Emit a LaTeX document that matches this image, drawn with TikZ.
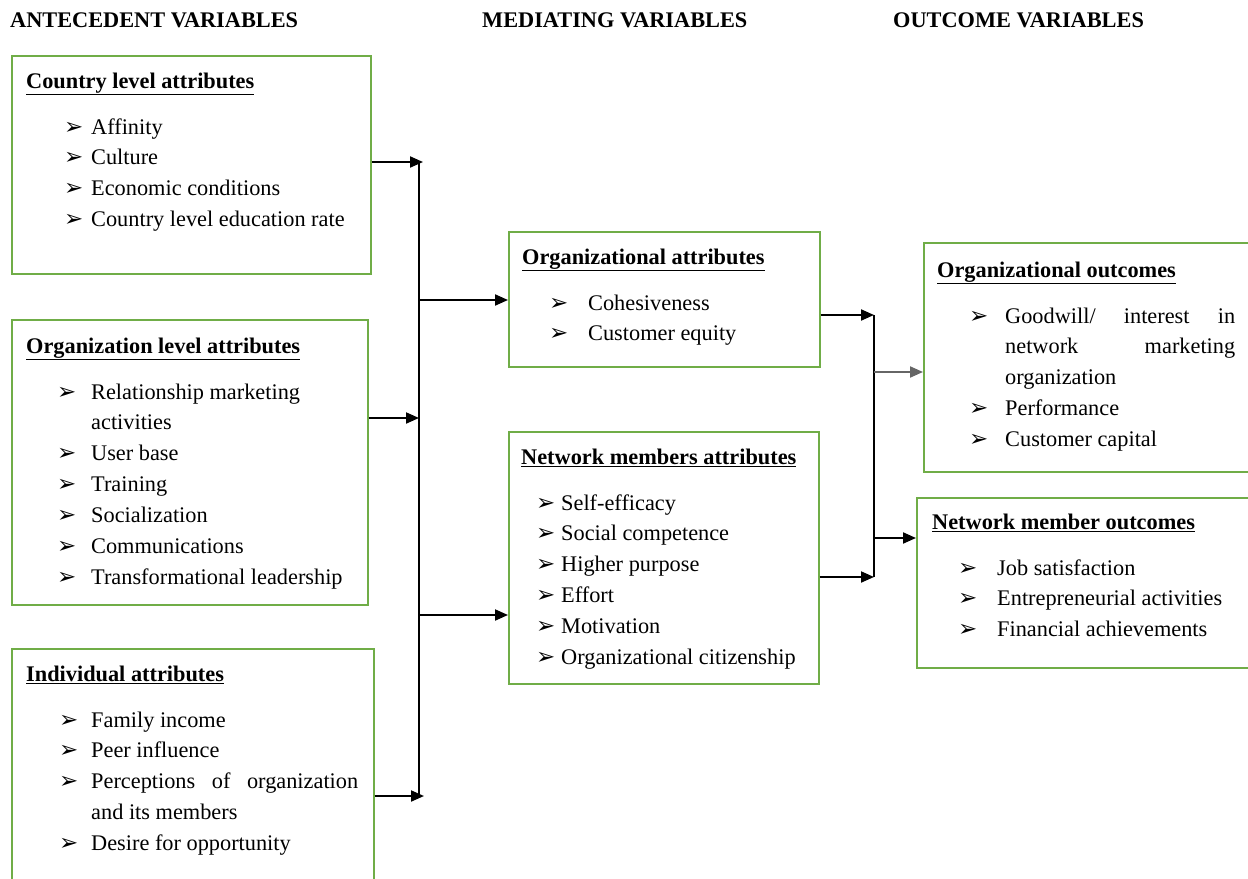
\documentclass[tikz,border=0pt]{standalone}
\usepackage{fontspec}
\setmainfont{Liberation Serif}
\newfontfamily\dvfont{DejaVu Sans}
\usetikzlibrary{arrows.meta}
\definecolor{boxgreen}{RGB}{112,173,71}
\newdimen\bulx
\newdimen\txtx
\newcommand\arw{{\dvfont\fontsize{23}{23}\selectfont ➢}}
\newcommand\itm[1]{\par\leftskip=\txtx\relax\rightskip=0pt\relax\noindent\llap{\hbox to \dimexpr\txtx-\bulx\relax{\arw\hfil}}#1}
\newcommand\ttl[1]{\rule{0pt}{20bp}\textbf{\underline{#1}}\par\vspace{15bp}}
\tikzset{
  box/.style={draw=boxgreen, line width=1.6bp, rectangle, inner sep=0pt, anchor=north west},
  txt/.style={anchor=north west, inner sep=0pt, align=justify, font=\fontsize{22.4}{31}\selectfont},
  hdr/.style={anchor=base west, inner sep=0pt, font=\fontsize{22.4}{27}\selectfont\bfseries},
  conn/.style={line width=2bp, black},
  arr/.style={line width=2bp, black, -{Triangle[length=13bp,width=11bp]}}
}
\begin{document}
\begin{tikzpicture}[x=1bp,y=-1bp]
\useasboundingbox[fill=white] (0,0) rectangle (1248,879);
% headers
\node[hdr] (h1) at (10,27) {ANTECEDENT VARIABLES};
\node[hdr] (h2) at (482,27) {MEDIATING VARIABLES};
\node[hdr] (h3) at (893,27) {OUTCOME VARIABLES};
% boxes
\node[box, minimum width=359bp, minimum height=218bp] (b1) at (11,55) {};
\node[box, minimum width=356bp, minimum height=285bp] (b2) at (11,319) {};
\node[box, minimum width=362bp, minimum height=245bp] (b3) at (11,648) {};
\node[box, minimum width=311bp, minimum height=135bp] (m1) at (508,231) {};
\node[box, minimum width=310bp, minimum height=252bp] (m2) at (508,431) {};
\node[box, minimum width=340bp, minimum height=229bp] (o1) at (923,242) {};
\node[box, minimum width=345bp, minimum height=170bp] (o2) at (916,497) {};
% texts
\node[txt, text width=340bp] (t1) at (26,68) {\bulx=38bp\txtx=65bp
\ttl{Country level attributes}
\itm{Affinity}\itm{Culture}\itm{Economic conditions}\itm{Country level education rate}\par};
\node[txt, text width=340bp] (t2) at (26,333) {\bulx=31bp\txtx=65bp
\ttl{Organization level attributes}
\itm{Relationship marketing\newline activities}\itm{User base}\itm{Training}\itm{Socialization}\itm{Communications}\itm{Transformational leadership}\par};
\node[txt, text width=332bp] (t3) at (26,661) {\bulx=33bp\txtx=65bp
\ttl{Individual attributes}
\itm{Family income}\itm{Peer influence}\itm{Perceptions of organization\linebreak and its members}\itm{Desire for opportunity}\par};
\node[txt, text width=295bp] (t4) at (522,244) {\bulx=27bp\txtx=66bp
\ttl{Organizational attributes}
\itm{Cohesiveness}\itm{Customer equity}\par};
\node[txt, text width=295bp] (t5) at (521,444) {\bulx=15bp\txtx=40bp
\ttl{Network members attributes}
\itm{Self-efficacy}\itm{Social competence}\itm{Higher purpose}\itm{Effort}\itm{Motivation}\itm{Organizational citizenship}\par};
\node[txt, text width=298bp] (t6) at (937,257) {\bulx=32bp\txtx=68bp
\ttl{Organizational outcomes}
\itm{Goodwill/ interest in\linebreak network marketing\linebreak organization}\itm{Performance}\itm{Customer capital}\par};
\node[txt, text width=310bp] (t7) at (932,509) {\bulx=26bp\txtx=65bp
\ttl{Network member outcomes}
\itm{Job satisfaction}\itm{Entrepreneurial activities}\itm{Financial achievements}\par};
% connector coordinates
\coordinate (La) at (419,162);
\coordinate (Lb) at (419,418);
\coordinate (Lc) at (419,796);
\coordinate (Lm1) at (419,300);
\coordinate (Lm2) at (419,615);
\coordinate (Ra) at (874,315);
\coordinate (Rb) at (874,577);
\coordinate (Ro1) at (874,372);
\coordinate (Ro2) at (874,538);
% left junction
\draw[conn] (La) -- (Lc);
\draw[arr, shorten >=-4bp] (b1.east |- La) -- (La);
\draw[arr] (b2.east |- Lb) -- (Lb);
\draw[arr, shorten >=-5bp] (b3.east |- Lc) -- (Lc);
\draw[arr] (Lm1) -- (m1.west |- Lm1);
\draw[arr] (Lm2) -- (m2.west |- Lm2);
% right junction
\draw[conn] (Ra) -- (Rb);
\draw[arr] (m1.east |- Ra) -- (Ra);
\draw[arr] (m2.east |- Rb) -- (Rb);
\draw[arr, draw=black!60, fill=black] (Ro1) -- (o1.west |- Ro1);
\draw[arr] (Ro2) -- (o2.west |- Ro2);
\end{tikzpicture}
\end{document}
